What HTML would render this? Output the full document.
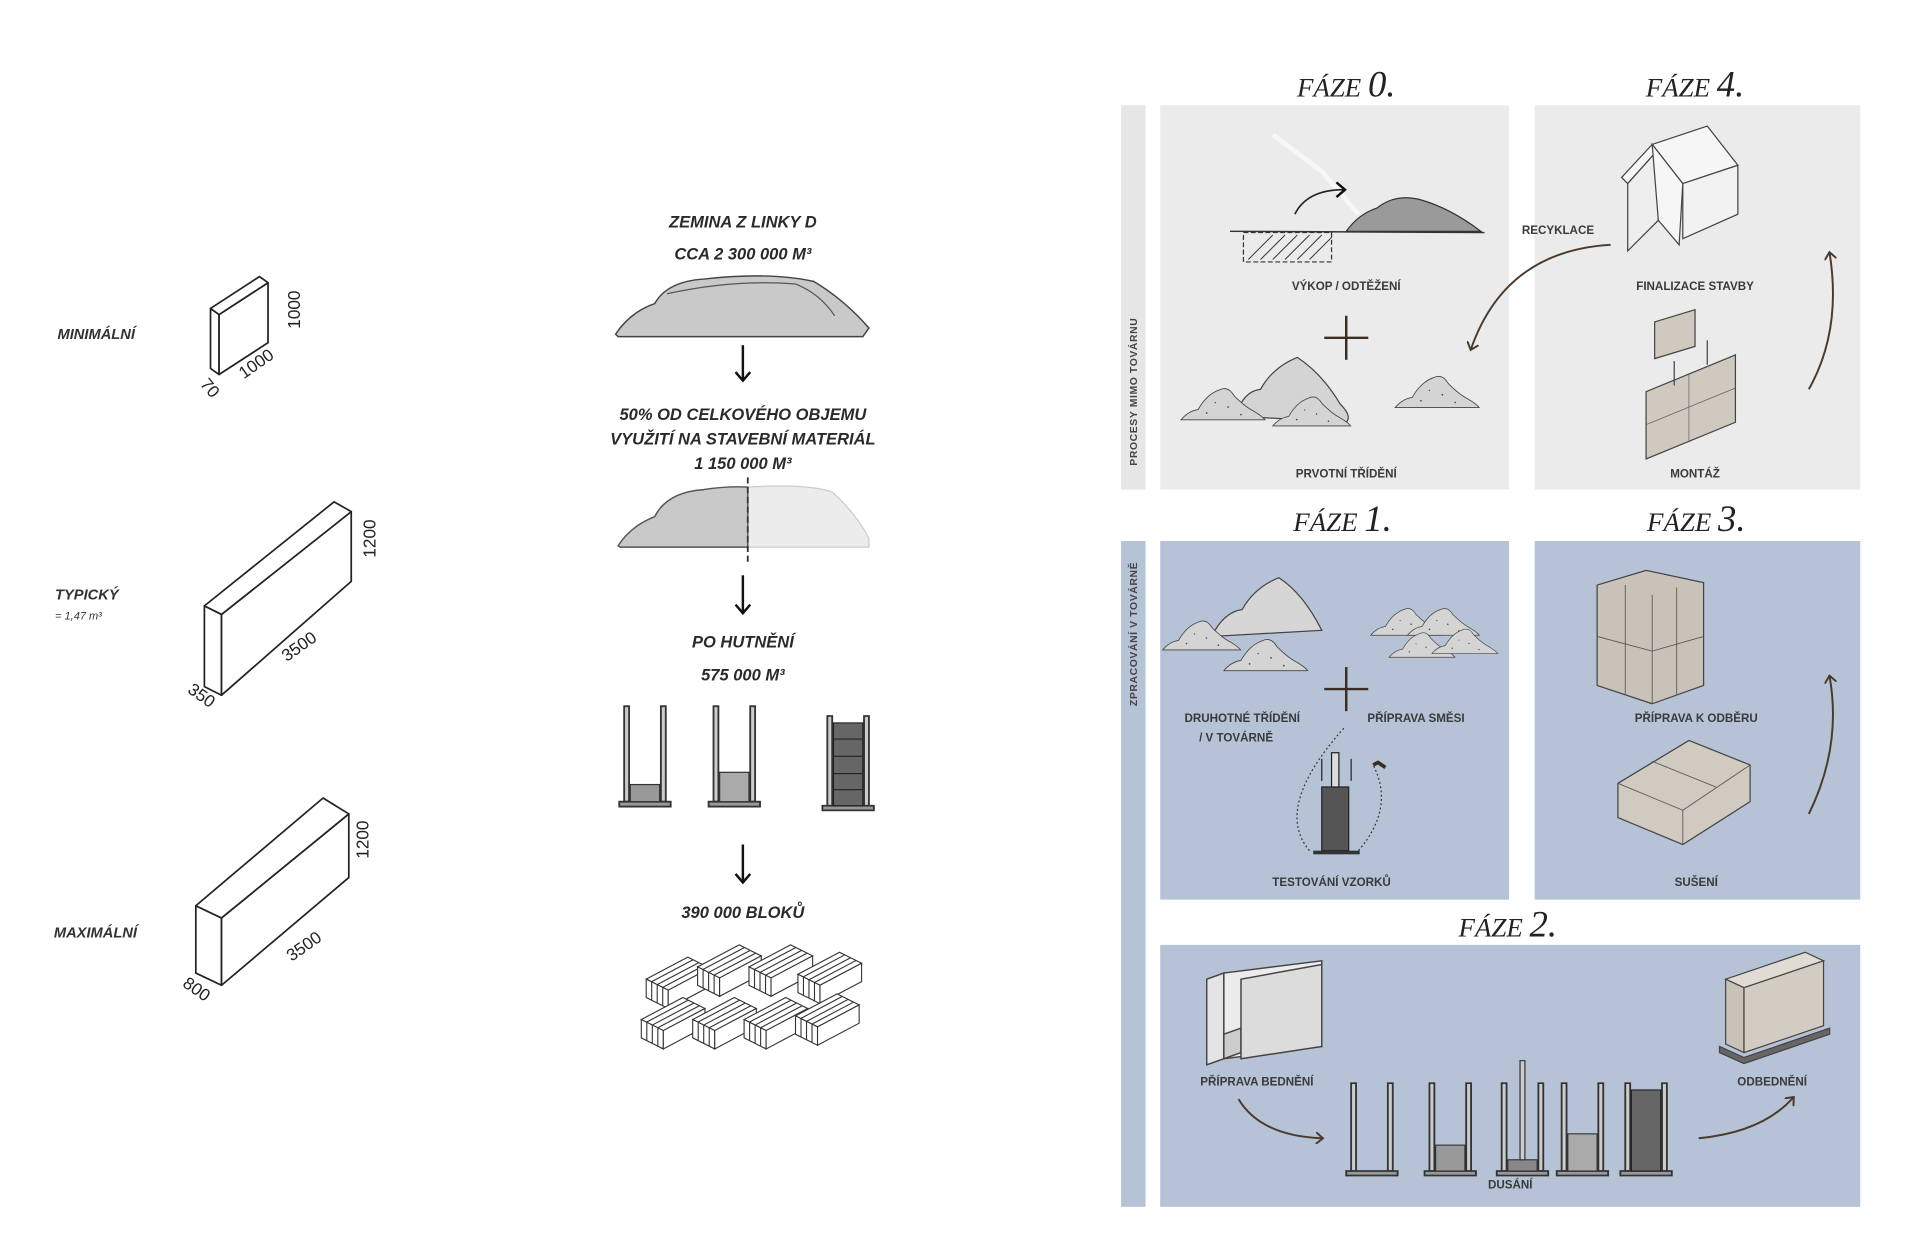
<!DOCTYPE html>
<html><head><meta charset="utf-8"><style>
html,body{margin:0;padding:0;background:#fff;}
svg{display:block}
.lb{font-family:"Liberation Sans",sans-serif;font-weight:bold;font-size:9.5px;fill:#3a3a3a;text-anchor:middle}
.ll{font-family:"Liberation Sans",sans-serif;font-weight:bold;font-style:italic;font-size:12px;fill:#333}
.mt{font-family:"Liberation Sans",sans-serif;font-style:italic;font-weight:bold;font-size:13.5px;fill:#2a2a2a;text-anchor:middle}
.dim{font-family:"Liberation Sans",sans-serif;font-size:14px;fill:#222;text-anchor:middle}
.ph{font-family:"Liberation Serif",serif;font-style:italic;fill:#222;text-anchor:middle}
.vt{font-family:"Liberation Sans",sans-serif;font-weight:bold;font-size:8.5px;fill:#444;text-anchor:middle;letter-spacing:0.5px}
</style></head><body>
<svg width="1919" height="1257" viewBox="0 0 1568 1027" preserveAspectRatio="none" xmlns="http://www.w3.org/2000/svg">
<defs>
<g id="blk" stroke="#333" stroke-width="0.9" fill="#fff">
<polygon points="0,18 34,0 52,9 18,27"/>
<polygon points="0,18 18,27 18,42 0,33"/>
<polygon points="18,27 52,9 52,24 18,42"/>
<line x1="4.5" y1="20" x2="38.5" y2="2"/><line x1="9" y1="22.5" x2="43" y2="4.5"/><line x1="13.5" y1="24.7" x2="47.5" y2="6.7"/>
<line x1="4.5" y1="20" x2="4.5" y2="35"/><line x1="9" y1="22.5" x2="9" y2="37.5"/><line x1="13.5" y1="24.7" x2="13.5" y2="39.7"/>
</g>
<g id="mnd">
<path d="M0,40 Q8,30 20,28 Q30,10 45,5 Q55,0 62,12 Q75,25 85,30 Q95,36 98,40 Z" fill="#d4d4d4" stroke="#444" stroke-width="1"/>
<circle cx="30" cy="32" r="1" fill="#444"/><circle cx="55" cy="25" r="1" fill="#444"/><circle cx="70" cy="34" r="1" fill="#444"/><circle cx="40" cy="20" r="0.8" fill="#444"/>
</g>
<g id="frm" stroke="#333" stroke-width="1.5" fill="#bbb">
<rect x="0" y="0" width="4" height="78" fill="#ccc"/>
<rect x="30" y="0" width="4" height="78" fill="#ccc"/>
<rect x="-4" y="78" width="42" height="4" fill="#999"/>
</g>
<marker id="ah" markerWidth="10" markerHeight="10" refX="5" refY="5" orient="auto" markerUnits="userSpaceOnUse"><path d="M0,0 L6,5 L0,10" fill="none" stroke="#4a3a2c" stroke-width="1.6"/></marker>
<marker id="ak" markerWidth="14" markerHeight="14" refX="7" refY="7" orient="auto" markerUnits="userSpaceOnUse"><path d="M1,1 L8,7 L1,13" fill="none" stroke="#111" stroke-width="2"/></marker>
</defs>

<text class="ll" x="47" y="277">MINIMÁLNÍ</text>
<text class="ll" x="45" y="490">TYPICKÝ</text>
<text class="ll" x="45" y="506" style="font-weight:normal;font-size:9px">= 1,47 m³</text>
<text class="ll" x="44" y="766">MAXIMÁLNÍ</text>
<g stroke="#222" stroke-width="1.4" fill="#fff" stroke-linejoin="round">
<polygon points="172,252 179,257 179,306 172,301"/>
<polygon points="179,257 219,231 219,280 179,306"/>
<polygon points="172,252 212,226 219,231 179,257"/>
<polygon points="167,495 181,502 181,568 167,561"/>
<polygon points="181,502 287,418 287,475 181,568"/>
<polygon points="167,495 273,410 287,418 181,502"/>
<polygon points="160,740 181,750 181,805 160,795"/>
<polygon points="181,750 285,665 285,717 181,805"/>
<polygon points="160,740 264,652 285,665 181,750"/>
</g>
<text class="dim" transform="translate(240,253) rotate(-90)" y="5">1000</text>
<text class="dim" transform="translate(212,301) rotate(-35)">1000</text>
<text class="dim" transform="translate(168,320) rotate(50)">70</text>
<text class="dim" transform="translate(302,440) rotate(-90)" y="5">1200</text>
<text class="dim" transform="translate(247,532) rotate(-35)">3500</text>
<text class="dim" transform="translate(162,572) rotate(35)">350</text>
<text class="dim" transform="translate(296,686) rotate(-90)" y="5">1200</text>
<text class="dim" transform="translate(251,777) rotate(-35)">3500</text>
<text class="dim" transform="translate(158,812) rotate(35)">800</text>

<text class="mt" x="607" y="186">ZEMINA Z LINKY D</text>
<text class="mt" x="607" y="212">CCA 2 300 000 M³</text>
<path d="M503,273 Q515,255 535,248 Q545,230 575,228 Q630,222 665,230 Q690,245 710,268 L705,275 L505,275 Z" fill="#c9c9c9" stroke="#444" stroke-width="1.2"/>
<path d="M545,240 Q600,228 650,232 Q670,240 682,258" fill="none" stroke="#555" stroke-width="1"/>
<line x1="607" y1="282" x2="607" y2="310" stroke="#111" stroke-width="2" marker-end="url(#ak)"/>
<text class="mt" x="607" y="343">50% OD CELKOVÉHO OBJEMU</text>
<text class="mt" x="607" y="363">VYUŽITÍ NA STAVEBNÍ MATERIÁL</text>
<text class="mt" x="607" y="383">1 150 000 M³</text>
<path d="M611,398 Q660,395 680,402 Q700,420 710,440 L710,447 L611,447 Z" fill="#ececec" stroke="#ccc" stroke-width="1"/>
<path d="M505,446 Q515,430 535,422 Q545,402 575,400 Q595,397 611,398 L611,447 L507,447 Z" fill="#c9c9c9" stroke="#555" stroke-width="1.2"/>
<line x1="611" y1="390" x2="611" y2="462" stroke="#333" stroke-width="1.5" stroke-dasharray="5,3"/>
<line x1="607" y1="470" x2="607" y2="500" stroke="#111" stroke-width="2" marker-end="url(#ak)"/>
<text class="mt" x="607" y="529">PO HUTNĚNÍ</text>
<text class="mt" x="607" y="556">575 000 M³</text>
<g transform="translate(510,577)"><use href="#frm"/><rect x="5" y="64" width="24" height="14" fill="#999" stroke="#333"/></g>
<g transform="translate(583,577)"><use href="#frm"/><rect x="5" y="54" width="24" height="24" fill="#aaa" stroke="#333"/></g>
<g transform="translate(676,585) scale(1,0.94)"><use href="#frm"/><rect x="5" y="6" width="24" height="72" fill="#666" stroke="#222"/><g stroke="#222"><line x1="5" y1="20" x2="29" y2="20"/><line x1="5" y1="35" x2="29" y2="35"/><line x1="5" y1="50" x2="29" y2="50"/><line x1="5" y1="64" x2="29" y2="64"/></g></g>
<line x1="607" y1="690" x2="607" y2="720" stroke="#111" stroke-width="2" marker-end="url(#ak)"/>
<text class="mt" x="607" y="750">390 000 BLOKŮ</text>
<use href="#blk" x="528" y="782"/><use href="#blk" x="570" y="772"/><use href="#blk" x="612" y="772"/><use href="#blk" x="652" y="778"/>
<use href="#blk" x="524" y="815"/><use href="#blk" x="566" y="815"/><use href="#blk" x="608" y="815"/><use href="#blk" x="650" y="812"/>

<rect x="916" y="86" width="20" height="314" fill="#e6e6e6"/>
<rect x="916" y="442" width="20" height="544" fill="#b6c2d6"/>
<rect x="948" y="86" width="285" height="314" fill="#ebebeb"/>
<rect x="1254" y="86" width="266" height="314" fill="#ebebeb"/>
<rect x="948" y="442" width="285" height="293" fill="#b6c2d6"/>
<rect x="1254" y="442" width="266" height="293" fill="#b6c2d6"/>
<rect x="948" y="772" width="572" height="214" fill="#b6c2d6"/>
<text class="vt" transform="translate(929,320) rotate(-90)">PROCESY MIMO TOVÁRNU</text>
<text class="vt" transform="translate(929,518) rotate(-90)">ZPRACOVÁNÍ V TOVÁRNĚ</text>

<text class="ph" x="1100" y="79"><tspan font-size="22">FÁZE </tspan><tspan font-size="30">0.</tspan></text>
<text class="ph" x="1385" y="79"><tspan font-size="22">FÁZE </tspan><tspan font-size="30">4.</tspan></text>
<text class="ph" x="1097" y="434"><tspan font-size="22">FÁZE </tspan><tspan font-size="30">1.</tspan></text>
<text class="ph" x="1386" y="434"><tspan font-size="22">FÁZE </tspan><tspan font-size="30">3.</tspan></text>
<text class="ph" x="1232" y="765"><tspan font-size="22">FÁZE </tspan><tspan font-size="30">2.</tspan></text>

<path d="M1040,110 L1080,140 L1110,175" stroke="#f7f7f7" stroke-width="4" fill="none"/>
<line x1="1005" y1="189" x2="1213" y2="190" stroke="#333" stroke-width="1.2"/>
<rect x="1016" y="190" width="72" height="24" fill="none" stroke="#333" stroke-dasharray="4,2"/>
<g stroke="#333" stroke-width="0.8"><line x1="1020" y1="212" x2="1040" y2="192"/><line x1="1030" y1="212" x2="1050" y2="192"/><line x1="1040" y1="212" x2="1060" y2="192"/><line x1="1050" y1="212" x2="1070" y2="192"/><line x1="1060" y1="212" x2="1080" y2="192"/><line x1="1070" y1="212" x2="1088" y2="194"/></g>
<path d="M1100,189 Q1110,175 1125,170 Q1140,158 1160,163 Q1185,170 1210,189 Z" fill="#9a9a9a" stroke="#333"/>
<path d="M1058,175 Q1068,155 1098,155" fill="none" stroke="#222" stroke-width="1.3" marker-end="url(#ak)"/>
<text class="lb" x="1100" y="237">VÝKOP / ODTĚŽENÍ</text>
<g stroke="#3a2e24" stroke-width="2"><line x1="1082" y1="276" x2="1118" y2="276"/><line x1="1100" y1="258" x2="1100" y2="294"/></g>
<path d="M1010,340 Q1015,320 1030,318 Q1040,300 1060,292 Q1080,305 1095,330 Q1105,340 1100,345 Z" fill="#d4d4d4" stroke="#444"/>
<use href="#mnd" transform="translate(965,315) scale(0.7)"/>
<use href="#mnd" transform="translate(1040,322) scale(0.65)"/>
<use href="#mnd" transform="translate(1140,305) scale(0.7)"/>
<text class="lb" x="1100" y="390">PRVOTNÍ TŘÍDĚNÍ</text>
<text class="lb" x="1273" y="191">RECYKLACE</text>
<path d="M1316,200 Q1230,205 1202,285" fill="none" stroke="#4a3a2c" stroke-width="1.6" marker-end="url(#ah)"/>
<g stroke="#444" stroke-width="1" fill="#f6f6f6">
<polygon points="1325,145 1350,118 1355,122 1330,150"/>
<polygon points="1330,150 1355,122 1355,180 1330,205" fill="#eee"/>
<polygon points="1350,118 1395,103 1420,135 1375,150"/>
<polygon points="1375,150 1420,135 1420,175 1375,195" fill="#f2f2f2"/>
<polygon points="1350,118 1375,150 1372,200 1355,180"/>
</g>
<text class="lb" x="1385" y="237">FINALIZACE STAVBY</text>
<g stroke="#444" stroke-width="1" fill="#cfc9c0">
<polygon points="1352,263 1385,253 1385,283 1352,293"/>
<polygon points="1345,320 1418,290 1418,345 1345,375"/>
</g>
<g stroke="#666" stroke-width="0.6"><line x1="1345" y1="347" x2="1418" y2="317"/><line x1="1380" y1="305" x2="1380" y2="360"/></g>
<line x1="1368" y1="295" x2="1368" y2="315" stroke="#444"/><line x1="1395" y1="278" x2="1395" y2="298" stroke="#444"/>
<text class="lb" x="1385" y="390">MONTÁŽ</text>
<path d="M1478,318 Q1505,270 1495,207" fill="none" stroke="#4a3a2c" stroke-width="1.6" marker-end="url(#ah)"/>
<path d="M990,520 Q1000,500 1015,498 Q1025,480 1045,472 Q1065,485 1080,515 Z" fill="#d6d6d6" stroke="#444"/>
<use href="#mnd" transform="translate(950,505) scale(0.65)"/>
<use href="#mnd" transform="translate(1000,520) scale(0.7)"/>
<use href="#mnd" transform="translate(1120,495) scale(0.6)"/>
<use href="#mnd" transform="translate(1150,495) scale(0.6)"/>
<use href="#mnd" transform="translate(1135,515) scale(0.55)"/>
<use href="#mnd" transform="translate(1170,512) scale(0.55)"/>
<g stroke="#3a2e24" stroke-width="2"><line x1="1082" y1="563" x2="1118" y2="563"/><line x1="1100" y1="545" x2="1100" y2="581"/></g>
<text class="lb" x="1015" y="590">DRUHOTNÉ TŘÍDĚNÍ</text>
<text class="lb" x="1010" y="606">/ V TOVÁRNĚ</text>
<text class="lb" x="1157" y="590">PŘÍPRAVA SMĚSI</text>
<path d="M1098,595 Q1040,660 1070,695" fill="none" stroke="#333" stroke-dasharray="1.5,2"/>
<path d="M1110,695 Q1140,660 1122,625" fill="none" stroke="#333" stroke-dasharray="1.5,2"/>
<rect x="1080" y="643" width="22" height="52" fill="#555" stroke="#222"/>
<rect x="1088" y="615" width="6" height="28" fill="#ddd" stroke="#222"/>
<rect x="1073" y="695" width="38" height="3" fill="#333"/>
<line x1="1080" y1="620" x2="1080" y2="638" stroke="#222"/><line x1="1104" y1="620" x2="1104" y2="638" stroke="#222"/>
<path d="M1122,625 l4,-2 l6,4" stroke="#3a2e24" stroke-width="3" fill="none"/>
<text class="lb" x="1088" y="724">TESTOVÁNÍ VZORKŮ</text>
<g stroke="#444" stroke-width="1" fill="#c8c2b8">
<polygon points="1305,478 1345,466 1392,476 1392,560 1350,575 1305,560"/>
</g>
<g stroke="#555" stroke-width="0.7" fill="none"><line x1="1305" y1="520" x2="1350" y2="532"/><line x1="1350" y1="532" x2="1392" y2="520"/><line x1="1350" y1="486" x2="1350" y2="575"/><line x1="1328" y1="478" x2="1328" y2="568"/><line x1="1370" y1="480" x2="1370" y2="568"/></g>
<text class="lb" x="1386" y="590">PŘÍPRAVA K ODBĚRU</text>
<g stroke="#444" stroke-width="1" fill="#d0cac0">
<polygon points="1322,640 1380,605 1430,625 1430,655 1375,690 1322,668"/>
</g>
<g stroke="#555" stroke-width="0.7"><line x1="1322" y1="640" x2="1375" y2="662"/><line x1="1375" y1="662" x2="1430" y2="625"/><line x1="1375" y1="662" x2="1375" y2="690"/><line x1="1350" y1="622" x2="1402" y2="643"/></g>
<text class="lb" x="1386" y="724">SUŠENÍ</text>
<path d="M1478,665 Q1505,610 1495,553" fill="none" stroke="#4a3a2c" stroke-width="1.6" marker-end="url(#ah)"/>
<g stroke="#444" stroke-width="1.2">
<polygon points="986,800 1000,795 1000,865 986,870" fill="#e4e4e4"/>
<polygon points="1000,795 1080,785 1080,855 1000,865" fill="#ececec"/>
<polygon points="1000,845 1014,840 1014,860 1000,865" fill="#ccc"/>
<polygon points="1014,800 1080,788 1080,855 1014,865" fill="#dcdcdc"/>
</g>
<text class="lb" x="1027" y="887">PŘÍPRAVA BEDNĚNÍ</text>
<path d="M1012,898 Q1030,928 1080,930" fill="none" stroke="#4a3a2c" stroke-width="1.6" marker-end="url(#ah)"/>
<g transform="translate(1104,885) scale(1,0.92)"><use href="#frm"/></g>
<g transform="translate(1168,885) scale(1,0.92)"><use href="#frm"/><rect x="5" y="55" width="24" height="23" fill="#999" stroke="#333"/></g>
<g transform="translate(1227,885) scale(1,0.92)"><use href="#frm"/><rect x="5" y="68" width="24" height="10" fill="#888" stroke="#333"/><rect x="15" y="-20" width="4" height="88" fill="#ccc" stroke="#333"/></g>
<g transform="translate(1276,885) scale(1,0.92)"><use href="#frm"/><rect x="5" y="45" width="24" height="33" fill="#aaa" stroke="#333"/></g>
<g transform="translate(1328,885) scale(1,0.92)"><use href="#frm"/><rect x="5" y="6" width="24" height="72" fill="#666" stroke="#222"/></g>
<text class="lb" x="1234" y="971">DUSÁNÍ</text>
<path d="M1388,930 Q1440,925 1465,897" fill="none" stroke="#4a3a2c" stroke-width="1.6" marker-end="url(#ah)"/>
<g stroke="#444" stroke-width="1">
<polygon points="1410,800 1475,778 1490,785 1425,807" fill="#e0dcd4"/>
<polygon points="1410,800 1425,807 1425,860 1410,853" fill="#c8c2b8"/>
<polygon points="1425,807 1490,785 1490,838 1425,860" fill="#d2ccc2"/>
<polygon points="1405,855 1425,864 1495,840 1495,845 1425,869 1405,860" fill="#666"/>
</g>
<text class="lb" x="1448" y="887">ODBEDNĚNÍ</text>
</svg>
</body></html>
